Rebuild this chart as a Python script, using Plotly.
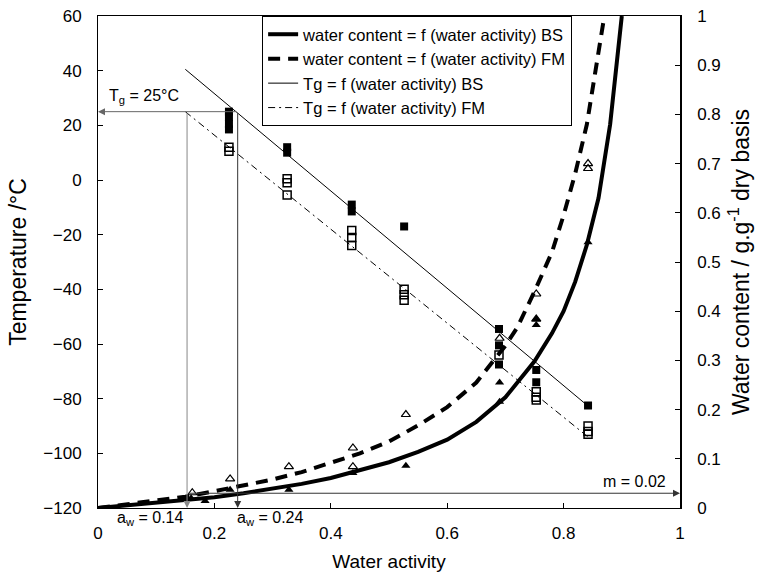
import plotly.graph_objects as go

# ---------------- data ----------------
# water content curves (right axis)
wc_bs_aw = [0, 0.05, 0.1, 0.15, 0.2, 0.25, 0.3, 0.35, 0.4, 0.45, 0.5, 0.55, 0.6, 0.65, 0.7, 0.75, 0.78, 0.8, 0.82, 0.84, 0.86, 0.88, 0.9]
wc_bs = [0, 0.005, 0.011, 0.016, 0.022, 0.03, 0.039, 0.049, 0.061, 0.076, 0.093, 0.114, 0.139, 0.175, 0.225, 0.298, 0.355, 0.40, 0.46, 0.535, 0.63, 0.78, 1.0]
wc_fm_aw = [0, 0.05, 0.1, 0.15, 0.2, 0.25, 0.3, 0.35, 0.4, 0.45, 0.5, 0.55, 0.6, 0.65, 0.7, 0.72, 0.75, 0.78, 0.8, 0.82, 0.84, 0.86, 0.87]
wc_fm = [0, 0.007, 0.014, 0.023, 0.034, 0.045, 0.058, 0.073, 0.091, 0.111, 0.135, 0.168, 0.205, 0.255, 0.33, 0.366, 0.44, 0.52, 0.595, 0.68, 0.78, 0.92, 1.0]

# Tg regression lines (left axis)
tg_line_aw = [0.15, 0.842]
tg_line_bs = [40.5, -82.7]
tg_line_fm = [25.0, -94.0]

# Tg measured points
tg_bs_aw = [0.225, 0.225, 0.225, 0.225, 0.325, 0.325, 0.436, 0.436, 0.526, 0.689, 0.689, 0.689, 0.753, 0.753, 0.842]
tg_bs = [25, 23, 20.5, 18.5, 12, 10, -9, -11.5, -17, -54.5, -60.5, -67.5, -69.5, -74, -82.5]
tg_fm_aw = [0.225, 0.225, 0.325, 0.325, 0.325, 0.436, 0.436, 0.436, 0.526, 0.526, 0.526, 0.689, 0.753, 0.753, 0.753, 0.842, 0.842, 0.842]
tg_fm = [12, 10.5, 0.5, -1, -5.5, -18.5, -21, -24, -40, -42, -44, -64, -77.5, -79.5, -80.5, -90, -92, -93]

# water content measured points
wc_pts_bs_aw = [0.16, 0.184, 0.227, 0.328, 0.438, 0.529, 0.69, 0.69, 0.753, 0.753, 0.842]
wc_pts_bs = [0.02, 0.014, 0.037, 0.037, 0.071, 0.086, 0.216, 0.255, 0.372, 0.384, 0.54]
wc_pts_fm_aw = [0.162, 0.227, 0.328, 0.438, 0.438, 0.529, 0.69, 0.753, 0.753, 0.842, 0.842]
wc_pts_fm = [0.031, 0.059, 0.084, 0.084, 0.122, 0.19, 0.345, 0.384, 0.435, 0.69, 0.70]

# reference values for annotations
tg_ref = 25
aw_low = 0.153
aw_high = 0.24
m_ref = 0.03

x_ticks = [0, 0.2, 0.4, 0.6, 0.8, 1]
x_ticktext = ["0", "0.2", "0.4", "0.6", "0.8", "1"]
y_ticks = [-120, -100, -80, -60, -40, -20, 0, 20, 40, 60]
y2_ticks = [0, 0.1, 0.2, 0.3, 0.4, 0.5, 0.6, 0.7, 0.8, 0.9, 1]
y2_ticktext = ["0", "0.1", "0.2", "0.3", "0.4", "0.5", "0.6", "0.7", "0.8", "0.9", "1"]

FONT = "Liberation Sans, Arial, sans-serif"

fig = go.Figure()

# legend traces
fig.add_trace(go.Scatter(x=wc_bs_aw, y=wc_bs, yaxis="y2", mode="lines",
                         line=dict(color="black", width=4),
                         name="water content = f (water activity) BS"))
fig.add_trace(go.Scatter(x=wc_fm_aw, y=wc_fm, yaxis="y2", mode="lines",
                         line=dict(color="black", width=4, dash="12px,8px"),
                         name="water content = f (water activity) FM"))
fig.add_trace(go.Scatter(x=tg_line_aw, y=tg_line_bs, mode="lines",
                         line=dict(color="black", width=1),
                         name="Tg = f (water activity) BS"))
fig.add_trace(go.Scatter(x=tg_line_aw, y=tg_line_fm, mode="lines",
                         line=dict(color="black", width=1, dash="7px,4px,2px,4px"),
                         name="Tg = f (water activity) FM"))

# markers
fig.add_trace(go.Scatter(x=tg_bs_aw, y=tg_bs, mode="markers", showlegend=False,
                         marker=dict(symbol="square", size=8, color="black")))
fig.add_trace(go.Scatter(x=tg_fm_aw, y=tg_fm, mode="markers", showlegend=False,
                         marker=dict(symbol="square-open", size=8, color="black",
                                     line=dict(width=1.5))))
fig.add_trace(go.Scatter(x=wc_pts_bs_aw, y=wc_pts_bs, yaxis="y2", mode="markers", showlegend=False,
                         marker=dict(symbol="triangle-up", size=8, color="black")))
fig.add_trace(go.Scatter(x=wc_pts_fm_aw, y=wc_pts_fm, yaxis="y2", mode="markers", showlegend=False,
                         marker=dict(symbol="triangle-up-open", size=8, color="black",
                                     line=dict(width=1.2))))

# arrows
arrow_common = dict(text="", showarrow=True, arrowhead=2, arrowsize=1.4, arrowwidth=1)
fig.add_annotation(x=0, y=tg_ref, ax=aw_high, ay=tg_ref, xref="x", yref="y",
                   axref="x", ayref="y", arrowcolor="#666666", **arrow_common)
fig.add_annotation(x=aw_low, y=-120, ax=aw_low, ay=tg_ref, xref="x", yref="y",
                   axref="x", ayref="y", arrowcolor="#888888", **arrow_common)
fig.add_annotation(x=aw_high, y=-120, ax=aw_high, ay=tg_ref, xref="x", yref="y",
                   axref="x", ayref="y", arrowcolor="#333333", **arrow_common)
fig.add_annotation(x=1, y=m_ref, ax=aw_low, ay=m_ref, xref="x", yref="y2",
                   axref="x", ayref="y2", arrowcolor="#333333", **arrow_common)

# text annotations
txt_font = dict(family=FONT, size=16, color="black")
fig.add_annotation(x=0.015, y=30.7, xref="x", yref="y", xanchor="left", yanchor="middle",
                   text="T<sub>g</sub> = 25°C", showarrow=False, font=txt_font)
fig.add_annotation(x=0.089, y=-0.022, xref="x", yref="paper", xanchor="center", yanchor="middle",
                   text="a<sub>w</sub> = 0.14", showarrow=False, font=txt_font)
fig.add_annotation(x=0.295, y=-0.022, xref="x", yref="paper", xanchor="center", yanchor="middle",
                   text="a<sub>w</sub> = 0.24", showarrow=False, font=txt_font)
fig.add_annotation(x=0.921, y=0.053, xref="x", yref="y2", xanchor="center", yanchor="middle",
                   text="m = 0.02", showarrow=False, font=txt_font)

tick_font = dict(family=FONT, size=17, color="black")
vtitle_font = dict(family=FONT, size=23, color="black")

fig.update_layout(
    width=759, height=582, autosize=False,
    margin=dict(l=98, r=79, t=16, b=74, pad=0, autoexpand=False),
    paper_bgcolor="white", plot_bgcolor="white",
    font=dict(family=FONT, size=16, color="black"),
    showlegend=True,
    legend=dict(x=0.282, y=1.0, xanchor="left", yanchor="top",
                bgcolor="white", bordercolor="black", borderwidth=1,
                font=dict(family=FONT, size=16.5, color="black"),
                tracegroupgap=0),
    xaxis=dict(range=[0, 1], tickvals=x_ticks, ticktext=x_ticktext, automargin=False,
               ticks="inside", ticklen=5, tickcolor="black",
               showline=True, linecolor="black", linewidth=1, mirror=True,
               showgrid=False, zeroline=False, tickfont=tick_font,
               ticklabelstandoff=10,
               title=dict(text="Water activity", font=dict(family=FONT, size=19, color="black"), standoff=12)),
    yaxis=dict(range=[-120, 60], tickvals=y_ticks, automargin=False,
               ticks="inside", ticklen=5, tickcolor="black",
               showline=True, linecolor="black", linewidth=1,
               showgrid=False, zeroline=False, tickfont=tick_font,
               ticklabelstandoff=12,
               title=dict(text="Temperature /°C", font=vtitle_font, standoff=10)),
    yaxis2=dict(range=[0, 1], tickvals=y2_ticks, ticktext=y2_ticktext, automargin=False,
                overlaying="y", side="right",
                ticks="inside", ticklen=5, tickcolor="black",
                showline=True, linecolor="black", linewidth=1.5,
                showgrid=False, zeroline=False, tickfont=tick_font,
                ticklabelstandoff=12,
                title=dict(text="Water content / g.g<sup>-1</sup> dry basis", font=vtitle_font, standoff=13)),
)

fig.write_html("out.html")
